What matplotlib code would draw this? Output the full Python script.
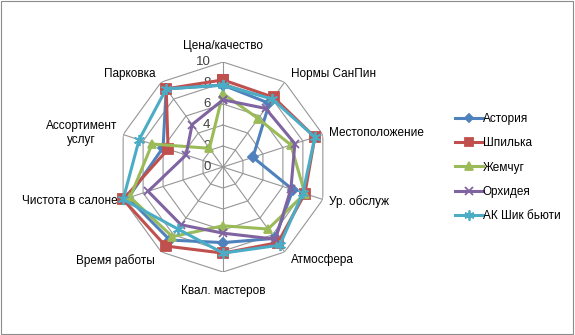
import numpy as np
import matplotlib.pyplot as plt
from matplotlib.patches import Rectangle
from matplotlib.transforms import ScaledTranslation

plt.rcParams['font.family'] = ['Liberation Sans', 'DejaVu Sans']

categories = ['Цена/качество', 'Нормы СанПин', 'Местоположение', 'Ур. обслуж',
              'Атмосфера', 'Квал. мастеров', 'Время работы', 'Чистота в салоне',
              'Ассортимент\nуслуг', 'Парковка']

astoria = [7.8, 7.5, 3.0, 7.0, 8.4, 7.2, 8.6, 9.5, 6.0, 9.2]
shpilka = [8.3, 8.2, 9.2, 8.2, 8.9, 8.2, 9.3, 10.0, 5.5, 9.2]
zhemchug = [7.0, 5.7, 6.8, 8.2, 7.3, 5.6, 8.2, 9.3, 7.1, 2.2]
orhideya = [6.4, 6.9, 7.2, 6.8, 8.5, 6.3, 6.8, 7.5, 3.7, 5.0]
shik = [7.8, 8.0, 9.2, 8.0, 9.2, 8.2, 7.3, 10.0, 8.4, 9.2]

series_names = ['Астория', 'Шпилька', 'Жемчуг', 'Орхидея', 'АК Шик бьюти']
series_values = [astoria, shpilka, zhemchug, orhideya, shik]
colors = ['#4F81BD', '#C0504D', '#9BBB59', '#8064A2', '#4BACC6']
markers = ['D', 's', '^', 'x', (6, 2, 0)]
msizes = [5, 7, 6, 6, 8]

r_ticks = [0, 2, 4, 6, 8, 10]

n = len(categories)
theta = np.arange(n) * 2 * np.pi / n
theta_c = np.append(theta, theta[0])

fig = plt.figure(figsize=(5.75, 3.35), dpi=100)
ax = fig.add_axes([0.2052, 0.188, 0.3652, 0.6269], projection='polar')
ax.set_theta_offset(np.pi / 2)
ax.set_theta_direction(-1)
ax.set_ylim(0, 10)
ax.grid(False)
ax.spines['polar'].set_visible(False)
ax.set_xticks([])
ax.set_yticks([])
ax.patch.set_alpha(0)

# polygon grid and spokes
for r in r_ticks[1:]:
    ax.plot(theta_c, [r] * (n + 1), color='#969696', lw=0.8, zorder=1)
for t in theta:
    ax.plot([t, t], [0, 10], color='#969696', lw=0.8, zorder=1)

# radial tick labels, left of the vertical axis
shift = ax.transData + ScaledTranslation(-9 / 72, 0, fig.dpi_scale_trans)
for r in r_ticks:
    ax.text(0, r, str(r), ha='right', va='center', fontsize=9.5, color='#404040',
            transform=shift)

# category labels
label_pos = [
    (0, 11.5, 'center', 'center'),
    (theta[1], 11.0, 'left', 'center'),
    (theta[2], 10.6, 'left', 'center'),
    (theta[3], 10.6, 'left', 'center'),
    (theta[4], 11.0, 'left', 'center'),
    (theta[5], 11.8, 'center', 'center'),
    (theta[6], 11.0, 'right', 'center'),
    (theta[7], 10.6, 'right', 'center'),
    (theta[8], 10.6, 'right', 'center'),
    (theta[9], 11.0, 'right', 'center'),
]
for (t, r, ha, va), lab in zip(label_pos, categories):
    ax.text(t, r, lab, ha=ha, va=va, fontsize=8.5, color='#000000', clip_on=False,
            multialignment='center')

handles = []
for name, vals, c, m, ms in zip(series_names, series_values, colors, markers, msizes):
    v = np.append(vals, vals[0])
    h, = ax.plot(theta_c, v, color=c, lw=2.2, marker=m, markersize=ms,
                 markeredgewidth=1.3, label=name, zorder=3, clip_on=False)
    handles.append(h)

fig.legend(handles=handles, loc='center left', bbox_to_anchor=(0.772, 0.5),
           frameon=False, fontsize=8.5, handlelength=2.4, handletextpad=0.0,
           labelspacing=1.05, markerscale=0.9)

fig.patches.append(Rectangle((0.002, 0.003), 0.995, 0.993, transform=fig.transFigure,
                             fill=False, edgecolor='#8C8C8C', lw=0.8))

fig.savefig('out.png', dpi=100)
